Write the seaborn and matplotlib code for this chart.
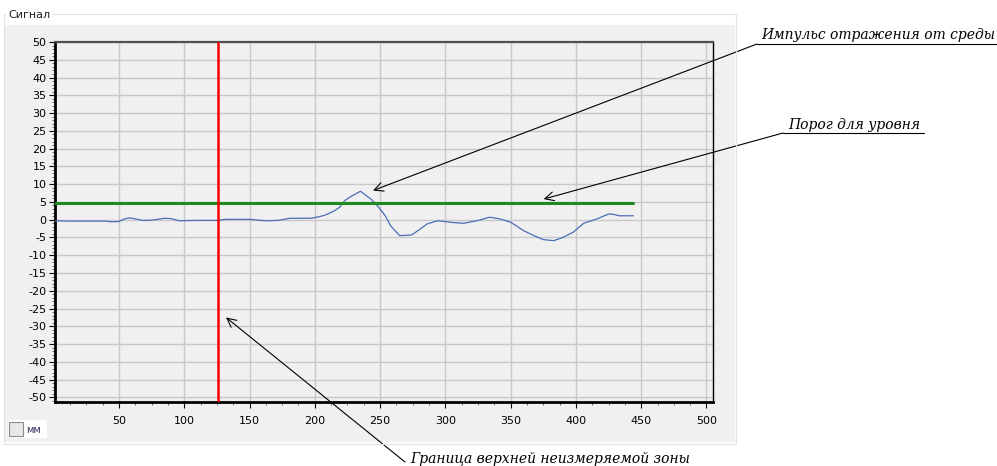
import numpy as np
import pandas as pd
import seaborn as sns
import matplotlib.pyplot as plt
from matplotlib.lines import Line2D
from matplotlib.patches import Rectangle
from matplotlib.ticker import MultipleLocator

# signal
pos = [1, 12, 40, 44, 50, 54, 58, 63, 68, 76, 85, 90, 96, 110, 125, 132, 150, 162, 172,
       181, 197, 203, 208, 215, 219, 223, 228, 235, 243, 248, 254, 258, 265, 274, 279,
       286, 294, 299, 306, 314, 324, 334, 342, 350, 360, 368, 375, 383, 390, 398, 406,
       416, 425, 429, 433, 444]
signal = [-0.3, -0.4, -0.4, -0.6, -0.5, 0.2, 0.5, 0.2, -0.2, -0.1, 0.4, 0.3, -0.3, -0.2,
          -0.2, 0.1, 0.1, -0.3, -0.2, 0.4, 0.4, 0.8, 1.3, 2.5, 3.5, 5.4, 6.6, 8.0, 5.8,
          3.9, 1.1, -1.7, -4.5, -4.3, -3.1, -1.2, -0.3, -0.5, -0.8, -1.0, -0.3, 0.7, 0.2,
          -0.7, -3.1, -4.5, -5.6, -5.9, -5.0, -3.5, -1.0, 0.2, 1.6, 1.5, 1.1, 1.1]
threshold = 4.7
threshold_end = 444
border = 126

title = 'Сигнал'
unit_label = 'мм'
note_pulse = 'Импульс отражения от среды'
note_thr = 'Порог для уровня'
note_border = 'Граница верхней неизмеряемой зоны'

W, H = 997, 466
panel = '#f0f0f0'

sns.set_style('ticks')
plt.rcParams['font.family'] = ['DejaVu Sans']
plt.rcParams['axes.unicode_minus'] = False
fig = plt.figure(figsize=(W / 100, H / 100), dpi=100)
fig.patch.set_facecolor('white')


def fx(px):
    return px / W


def fy(py):
    return (H - py) / H


# group box of the form
fig.add_artist(Rectangle((fx(5), fy(442)), fx(730), 417 / H, transform=fig.transFigure,
                         facecolor=panel, edgecolor='none', zorder=0))
fig.add_artist(Rectangle((fx(4), fy(444)), fx(732), 430 / H, transform=fig.transFigure,
                         facecolor='none', edgecolor='#e2e2e2', lw=0.8, zorder=1))
fig.text(fx(8), fy(15), title, fontsize=8, va='center', ha='left', color='#202020',
         bbox=dict(facecolor='white', edgecolor='none', pad=1.5), zorder=3)

ax = fig.add_axes([fx(55), fy(402), fx(713 - 55), (402 - 42) / H])
ax.set_facecolor(panel)

df = pd.DataFrame({'pos': pos, 'signal': signal})
sns.lineplot(data=df, x='pos', y='signal', ax=ax, color='#4a6db5', lw=0.9, zorder=3)
ax.plot([1, threshold_end], [threshold, threshold], color='#1f8a1f', lw=2.2, zorder=4)
ax.axvline(border, color='#ff0000', lw=1.8, zorder=5)

ax.set_xlim(1, 505)
ax.set_ylim(-51.3, 50)
ax.xaxis.set_major_locator(MultipleLocator(50))
ax.xaxis.set_minor_locator(MultipleLocator(12.5))
ax.yaxis.set_major_locator(MultipleLocator(5))
ax.yaxis.set_minor_locator(MultipleLocator(1))
ax.set_xticks([50, 100, 150, 200, 250, 300, 350, 400, 450, 500])
ax.grid(True, which='major', color='#c8c8c8', lw=1)
ax.tick_params(which='major', length=4, width=0.8, labelsize=8, colors='black', pad=2)
ax.tick_params(axis='x', pad=6)
ax.tick_params(which='minor', length=2, width=0.5, colors='#333333')
ax.set_xlabel('')
ax.set_ylabel('')
for side in ['left', 'bottom']:
    ax.spines[side].set_linewidth(2)
    ax.spines[side].set_color('black')
ax.spines['top'].set_linewidth(1.6)
ax.spines['top'].set_color('#505050')
ax.spines['right'].set_linewidth(1)
ax.spines['right'].set_color('black')

# checkbox "мм"
fig.add_artist(Rectangle((fx(8), fy(438)), fx(39), 18 / H, transform=fig.transFigure,
                         facecolor='white', edgecolor='none', zorder=2))
fig.add_artist(Rectangle((fx(9), fy(436)), fx(14), 14 / H, transform=fig.transFigure,
                         facecolor='#e8e8e8', edgecolor='#8a8a8a', lw=0.8, zorder=3))
fig.text(fx(26), fy(430), unit_label, fontsize=7, va='center', ha='left', color='#30305a')

# callouts
note_font = dict(family='DejaVu Serif', style='italic', color='black')
arrow = dict(arrowstyle='->', color='black', lw=0.8, mutation_scale=16, shrinkA=0, shrinkB=0)

fig.text(fx(995), fy(39), note_pulse, ha='right', va='baseline', fontsize=10, **note_font)
fig.add_artist(Line2D([fx(757), fx(997)], [fy(44), fy(44)], transform=fig.transFigure,
                      color='black', lw=0.8))
ax.annotate('', xy=(244.6, 8.2), xycoords='data', xytext=(fx(757), fy(44)),
            textcoords='figure fraction', arrowprops=arrow, annotation_clip=False)

fig.text(fx(788), fy(129), note_thr, ha='left', va='baseline', fontsize=10, **note_font)
fig.add_artist(Line2D([fx(783), fx(924)], [fy(133), fy(133)], transform=fig.transFigure,
                      color='black', lw=0.8))
ax.annotate('', xy=(375.3, 5.8), xycoords='data', xytext=(fx(783), fy(133)),
            textcoords='figure fraction', arrowprops=arrow, annotation_clip=False)

fig.text(fx(410), fy(463), note_border, ha='left', va='baseline', fontsize=10, **note_font)
ax.annotate('', xy=(132, -27.5), xycoords='data', xytext=(fx(405), fy(462)),
            textcoords='figure fraction', arrowprops=arrow, annotation_clip=False)

fig.savefig('out.png', dpi=100, facecolor='white')
